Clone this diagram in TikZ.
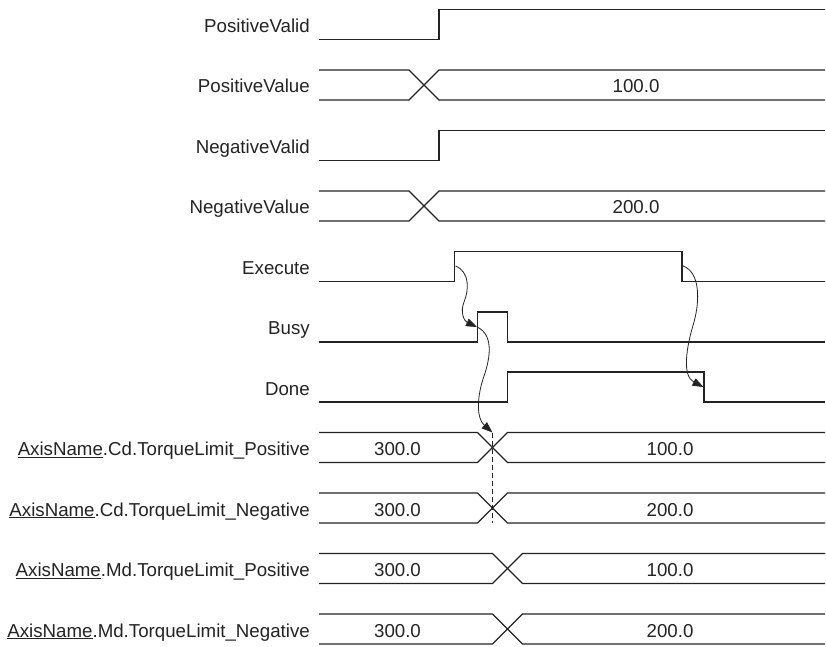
\documentclass[tikz,border=0pt]{standalone}
\usepackage{fontspec}
\setmainfont{Liberation Sans}
\usetikzlibrary{arrows.meta,positioning,calc}
\definecolor{inkgray}{RGB}{35,35,35}
\tikzset{
  sig/.style={draw=inkgray,line width=1.2pt},
  lbl/.style={anchor=base east,inner sep=0pt,font=\fontsize{18.7}{22}\selectfont,text=inkgray},
  val/.style={anchor=base,inner sep=0pt,font=\fontsize{18.7}{22}\selectfont,text=inkgray},
  wavy/.style={draw=inkgray,line width=0.8pt,-{Triangle[length=11pt,width=8pt]}},
  guide/.style={draw=inkgray,line width=0.8pt,dash pattern=on 5pt off 3pt},
}
% bus signal: top edge, start of crossing
\newcommand{\busrow}[2]{%
  \draw[sig] (319,#1) -- (#2,#1) -- ({#2+30},{#1+30}) -- (825,{#1+30});
  \draw[sig] (319,{#1+30}) -- (#2,{#1+30}) -- ({#2+30},#1) -- (825,#1);}

\begin{document}
\begin{tikzpicture}[x=1pt,y=-1pt]
  \useasboundingbox (0,0) rectangle (826,646);

  % signal names
  \node[lbl] (posvalid) at (310,32) {PositiveValid};
  \node[lbl] (posvalue) at (310,92.5) {PositiveValue};
  \node[lbl] (negvalid) at (310,153) {NegativeValid};
  \node[lbl] (negvalue) at (310,213.5) {NegativeValue};
  \node[lbl] (execute) at (310,274) {Execute};
  \node[lbl] (busy) at (310,334.5) {Busy};
  \node[lbl] (done) at (310,395) {Done};
  \node[lbl] (cdpos) at (310,455.5) {\underline{AxisName}.Cd.TorqueLimit\_Positive};
  \node[lbl] (cdneg) at (310,516) {\underline{AxisName}.Cd.TorqueLimit\_Negative};
  \node[lbl] (mdpos) at (310,576.5) {\underline{AxisName}.Md.TorqueLimit\_Positive};
  \node[lbl] (mdneg) at (310,637) {\underline{AxisName}.Md.TorqueLimit\_Negative};

  % waveforms
  \draw[sig] (319,39.5) -- (439,39.5) -- (439,9.5) -- (825,9.5);
  \busrow{70}{409}
  \draw[sig] (319,160.5) -- (439,160.5) -- (439,130.5) -- (825,130.5);
  \busrow{191}{409}
  \draw[sig] (319,281.5) -- (454.5,281.5) -- (454.5,251.5) -- (682,251.5)
    -- (682,281.5) -- (825,281.5);
  \draw[sig] (319,342) -- (477.5,342) -- (477.5,312) -- (507.5,312)
    -- (507.5,342) -- (825,342);
  \draw[sig] (319,402) -- (507.5,402) -- (507.5,372) -- (704,372)
    -- (704,402) -- (825,402);
  \busrow{432.5}{477.5}
  \busrow{493}{477.5}
  \busrow{553.5}{492.5}
  \busrow{614}{492.5}

  % values
  \node[val] (pv) at (636,92.5) {100.0};
  \node[val] (nv) at (636,213.5) {200.0};
  \node[val] (cdpold) at (397.5,455.5) {300.0};
  \node[val] (cdpnew) at (670,455.5) {100.0};
  \node[val] (cdnold) at (397.5,516) {300.0};
  \node[val] (cdnnew) at (670,516) {200.0};
  \node[val] (mdpold) at (397.5,576.5) {300.0};
  \node[val] (mdpnew) at (670,576.5) {100.0};
  \node[val] (mdnold) at (397.5,637) {300.0};
  \node[val] (mdnnew) at (670,637) {200.0};

  % cause and effect
  \coordinate (exrise) at (455.5,266);
  \coordinate (bsrise) at (477,327);
  \coordinate (cdcross) at (492.5,432.5);
  \coordinate (cdend) at (492.5,523);
  \coordinate (exfall) at (683,266);
  \coordinate (dnfall) at (703.5,387);
  \draw[wavy] (exrise) .. controls (470,272) and (469,290) .. (464,302)
    .. controls (460,312) and (464,321) .. (bsrise);
  \draw[wavy] (bsrise) .. controls (493,334) and (491,356) .. (484,376)
    .. controls (477,396) and (476,418) .. (cdcross);
  \draw[wavy] (exfall) .. controls (700,272) and (700,300) .. (694,322)
    .. controls (686,348) and (682,376) .. (dnfall);
  \draw[guide] (cdcross) -- (cdend);
\end{tikzpicture}
\end{document}
